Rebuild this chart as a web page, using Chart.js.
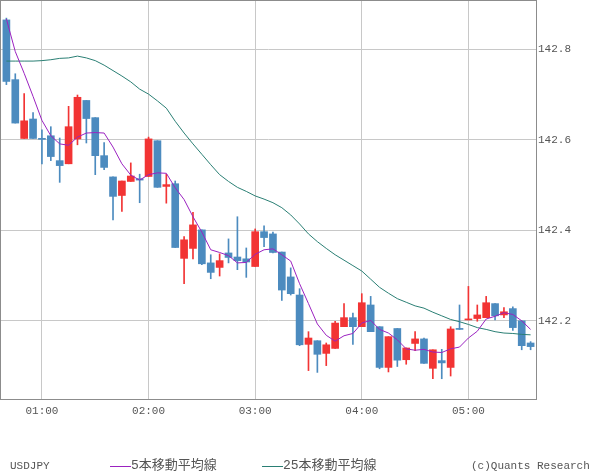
<!DOCTYPE html>
<html><head><meta charset="utf-8">
<script src="https://cdn.jsdelivr.net/npm/chart.js@4/dist/chart.umd.min.js"></script>
<style>
body{margin:0;background:#fff;}
#wrap{position:relative;width:600px;height:475px;overflow:hidden;}
canvas{position:absolute;left:0;top:0;}
.lg{position:absolute;top:458px;font:11px "Liberation Mono","DejaVu Sans Mono",monospace;color:#555;white-space:nowrap;line-height:16px;}
.cj{font-family:"Liberation Mono","Noto Sans CJK JP",monospace;font-size:13px;}
.sw{display:inline-block;width:21px;height:1px;vertical-align:middle;}
</style></head>
<body>
<div id="wrap">
<canvas id="c" width="600" height="475"></canvas>
<div class="lg" style="left:10px">USDJPY</div>
<div class="lg" style="left:110px"><span class="sw" style="background:#9b22c0"></span><span class="cj">5本移動平均線</span></div>
<div class="lg" style="left:262px"><span class="sw" style="background:#2a7f74"></span><span class="cj">25本移動平均線</span></div>
<div class="lg" style="left:471px">(c)Quants Research</div>
</div>
<script>
const times = ['00:40','00:45','00:50','00:55','01:00','01:05','01:10','01:15','01:20','01:25','01:30','01:35',
'01:40','01:45','01:50','01:55','02:00','02:05','02:10','02:15','02:20','02:25','02:30','02:35',
'02:40','02:45','02:50','02:55','03:00','03:05','03:10','03:15','03:20','03:25','03:30','03:35',
'03:40','03:45','03:50','03:55','04:00','04:05','04:10','04:15','04:20','04:25','04:30','04:35',
'04:40','04:45','04:50','04:55','05:00','05:05','05:10','05:15','05:20','05:25','05:30','05:35'];

const opens = [142.865,142.733,142.603,142.646,142.603,142.609,142.554,142.547,142.602,142.687,
142.649,142.565,142.518,142.477,142.508,142.514,142.519,142.598,142.497,142.503,
142.338,142.360,142.401,142.328,142.318,142.350,142.341,142.337,142.320,142.397,
142.392,142.352,142.297,142.257,142.148,142.156,142.128,142.139,142.187,142.207,
142.187,142.235,142.187,142.097,142.183,142.114,142.150,142.160,142.095,142.112,
142.097,142.183,142.202,142.205,142.207,142.238,142.213,142.227,142.200,142.151];

const highs = [142.869,142.746,142.702,142.660,142.622,142.629,142.604,142.674,142.699,142.687,
142.649,142.594,142.518,142.509,142.549,142.524,142.606,142.598,142.524,142.509,
142.386,142.440,142.401,142.346,142.348,142.381,142.430,142.361,142.403,142.410,
142.396,142.352,142.317,142.271,142.176,142.156,142.151,142.199,142.238,142.217,
142.260,142.254,142.187,142.165,142.183,142.140,142.176,142.162,142.136,142.137,
142.187,142.235,142.276,142.235,142.254,142.238,142.229,142.231,142.200,142.154];

const lows = [142.722,142.637,142.603,142.603,142.547,142.554,142.506,142.547,142.589,142.593,
142.523,142.534,142.423,142.442,142.508,142.461,142.519,142.495,142.460,142.362,
142.282,142.337,142.324,142.293,142.299,142.328,142.313,142.296,142.320,142.364,
142.350,142.245,142.257,142.145,142.090,142.086,142.101,142.139,142.187,142.148,
142.187,142.176,142.094,142.087,142.099,142.104,142.134,142.106,142.072,142.072,
142.078,142.181,142.202,142.199,142.207,142.202,142.207,142.179,142.136,142.136];

const closes = [142.729,142.637,142.642,142.603,142.601,142.563,142.543,142.629,142.694,142.647,
142.565,142.539,142.475,142.509,142.520,142.511,142.602,142.495,142.501,142.362,
142.379,142.412,142.326,142.307,142.333,142.340,142.333,142.330,142.397,142.384,
142.351,142.268,142.260,142.147,142.162,142.126,142.147,142.195,142.207,142.187,
142.240,142.176,142.097,142.165,142.113,142.140,142.160,142.106,142.136,142.107,
142.182,142.181,142.204,142.213,142.240,142.211,142.220,142.185,142.145,142.143];

const ma5 = [142.867,142.795,142.747,142.696,142.643,142.609,142.591,142.588,142.606,142.615,
142.616,142.615,142.584,142.547,142.522,142.511,142.523,142.527,142.526,142.494,
142.468,142.430,142.396,142.357,142.351,142.344,142.328,142.329,142.347,142.357,
142.359,142.346,142.332,142.282,142.238,142.193,142.168,142.155,142.167,142.172,
142.195,142.201,142.181,142.173,142.158,142.138,142.135,142.137,142.131,142.130,
142.138,142.142,142.162,142.177,142.204,142.210,142.218,142.214,142.200,142.181];

const ma25 = [142.774,142.774,142.774,142.774,142.775,142.777,142.780,142.781,142.785,142.781,
142.775,142.765,142.753,142.741,142.728,142.712,142.701,142.686,142.670,142.641,
142.615,142.591,142.568,142.545,142.523,142.508,142.495,142.486,142.476,142.469,
142.461,142.450,142.434,142.414,142.392,142.375,142.360,142.346,142.334,142.322,
142.310,142.292,142.274,142.261,142.249,142.241,142.233,142.228,142.219,142.211,
142.203,142.198,142.192,142.185,142.181,142.176,142.173,142.172,142.170,142.169];

const yTicks = [142.2, 142.4, 142.6, 142.8];
const xTickLabels = ['01:00','02:00','03:00','04:00','05:00'];

const RED = '#f23434', BLUE = '#4c8bbf';
const candleColors = opens.map((o,i) => closes[i] >= o ? RED : BLUE);
const bodies = opens.map((o,i) => ({x:i, y:[o, closes[i]]}));
const wicks = highs.map((h,i) => ({x:i, y:[lows[i], h]}));
const ma5Pts = ma5.map((v,i) => ({x:i, y:v}));
const ma25Pts = ma25.map((v,i) => ({x:i, y:v}));
const xTickValues = xTickLabels.map(l => times.indexOf(l));

const framePlugin = {
  id:'frame',
  afterDraw(chart){
    const a = chart.chartArea, ctx = chart.ctx;
    ctx.save();
    ctx.strokeStyle = '#8c8c8c';
    ctx.lineWidth = 1;
    ctx.strokeRect(a.left+0.5, a.top+0.5, a.right-a.left-1, a.bottom-a.top-1);
    ctx.restore();
  }
};

function zeroPad(s){ s.paddingTop = 0; s.paddingBottom = 0; s.paddingLeft = 0; s.paddingRight = 0; }

new Chart(document.getElementById('c'), {
  type:'bar',
  data:{
    datasets:[
      {type:'line', data:ma5Pts, borderColor:'#9b22c0', borderWidth:1, pointRadius:0, tension:0, order:0},
      {type:'line', data:ma25Pts, borderColor:'#2a7f74', borderWidth:1, pointRadius:0, tension:0, order:0},
      {data:bodies, backgroundColor:candleColors, borderWidth:0, barThickness:7, grouped:false, minBarLength:1, order:1},
      {data:wicks, backgroundColor:candleColors, borderWidth:0, barThickness:1, grouped:false, order:2}
    ]
  },
  options:{
    responsive:false, animation:false, devicePixelRatio:1,
    layout:{padding:0},
    plugins:{legend:{display:false}, tooltip:{enabled:false}},
    scales:{
      x:{
        type:'linear', min:-0.72, max:59.72, offset:false,
        afterBuildTicks(s){ s.ticks = xTickValues.map(v => ({value:v})); },
        afterFit(s){ s.height = 75; zeroPad(s); },
        ticks:{autoSkip:false, maxRotation:0, padding:4, color:'#555',
          font:{family:'"Liberation Mono","DejaVu Sans Mono",monospace', size:11},
          callback:(v) => times[v]},
        grid:{color:'#c8c8c8', drawTicks:false, lineWidth:1, offset:false},
        border:{display:false}
      },
      y:{
        position:'right', min:142.025, max:142.909,
        afterBuildTicks(s){ s.ticks = yTicks.map(v => ({value:v})); },
        afterFit(s){ s.width = 63; zeroPad(s); },
        ticks:{padding:1, color:'#555',
          font:{family:'"Liberation Mono","DejaVu Sans Mono",monospace', size:11},
          callback:(v) => v.toFixed(1)},
        grid:{color:'#c8c8c8', drawTicks:false, lineWidth:1, offset:false},
        border:{display:false}
      }
    }
  },
  plugins:[framePlugin]
});
</script>
</body></html>
